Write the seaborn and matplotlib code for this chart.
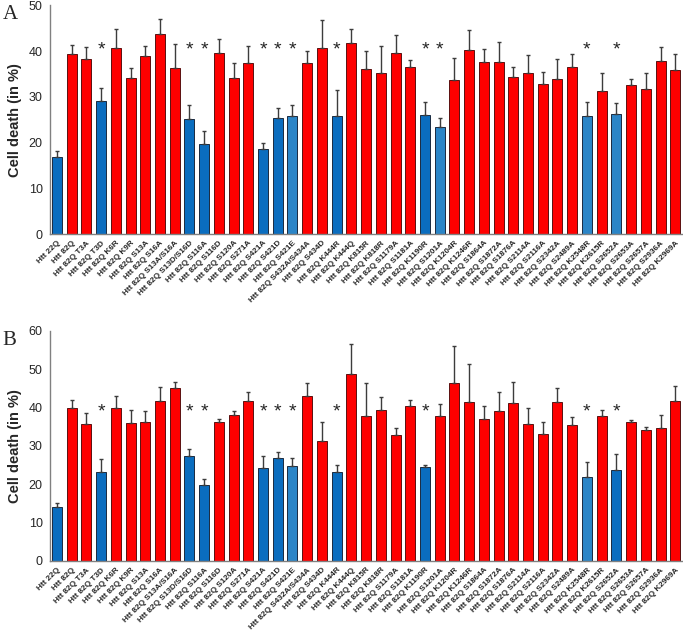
import numpy as np
import pandas as pd
import matplotlib
matplotlib.use("Agg")
import matplotlib.pyplot as plt
import seaborn as sns

sns.set_style("white")
plt.rcParams['font.family'] = ['Liberation Sans', 'DejaVu Sans']

# mutants (same order in both panels)
labels = ["Htt 22Q", "Htt 82Q", "Htt 82Q T3A", "Htt 82Q T3D", "Htt 82Q K6R", "Htt 82Q K9R",
          "Htt 82Q S13A", "Htt 82Q S16A", "Htt 82Q S13A/S16A", "Htt 82Q S13D/S16D",
          "Htt 82Q S116A", "Htt 82Q S116D", "Htt 82Q S120A", "Htt 82Q S271A",
          "Htt 82Q S421A", "Htt 82Q S421D", "Htt 82Q S421E", "Htt 82Q S432A/S434A",
          "Htt 82Q S434D", "Htt 82Q K444R", "Htt 82Q K444Q", "Htt 82Q K815R",
          "Htt 82Q K818R", "Htt 82Q S1179A", "Htt 82Q S1181A", "Htt 82Q K1190R",
          "Htt 82Q S1201A", "Htt 82Q K1204R", "Htt 82Q K1246R", "Htt 82Q S1864A",
          "Htt 82Q S1872A", "Htt 82Q S1876A", "Htt 82Q S2114A", "Htt 82Q S2116A",
          "Htt 82Q S2342A", "Htt 82Q S2489A", "Htt 82Q K2548R", "Htt 82Q K2615R",
          "Htt 82Q S2652A", "Htt 82Q S2653A", "Htt 82Q S2657A", "Htt 82Q S2936A",
          "Htt 82Q K2969A"]

# panel A
death_A = [16.8, 39.4, 38.2, 29.0, 40.7, 34.2, 38.9, 43.7, 36.4, 25.1, 19.6, 39.6, 34.1, 37.4,
           18.5, 25.3, 25.9, 37.4, 40.6, 25.8, 41.8, 36.0, 35.3, 39.6, 36.5, 26.1, 23.3, 33.7,
           40.2, 37.7, 37.7, 34.4, 35.1, 32.8, 33.9, 36.5, 25.8, 31.2, 26.3, 32.5, 31.8, 37.9, 35.9]
err_A = [1.4, 2.0, 2.7, 3.0, 4.2, 2.2, 2.1, 3.4, 5.2, 3.1, 2.9, 3.1, 3.2, 3.8, 1.5, 2.3, 2.4,
         2.6, 6.2, 5.6, 3.0, 3.9, 5.7, 4.0, 1.5, 2.8, 2.0, 4.8, 4.3, 2.8, 4.3, 2.2, 4.1, 2.6,
         4.4, 2.9, 3.1, 4.1, 2.4, 1.4, 3.5, 3.0, 3.5]
group_A = ["b", "r", "r", "b", "r", "r", "r", "r", "r", "b", "b", "r", "r", "r", "b", "b", "lb",
           "r", "r", "b", "r", "r", "r", "r", "r", "b", "lb", "r", "r", "r", "r", "r", "r", "r",
           "r", "r", "lb", "r", "lb", "r", "r", "r", "r"]
star_A = [3, 9, 10, 14, 15, 16, 19, 25, 26, 36, 38]

# panel B
death_B = [14.0, 40.0, 35.8, 23.2, 39.9, 36.1, 36.2, 41.8, 45.2, 27.3, 19.7, 36.3, 38.1, 41.8,
           24.2, 26.8, 24.9, 43.0, 31.3, 23.1, 48.9, 37.9, 39.3, 32.9, 40.3, 24.4, 37.7, 46.3,
           41.6, 37.1, 39.0, 41.3, 35.8, 33.1, 41.4, 35.4, 22.0, 37.7, 23.7, 36.2, 34.2, 34.7, 41.8]
err_B = [1.1, 2.1, 2.8, 3.5, 3.1, 3.4, 2.8, 3.5, 1.6, 2.0, 1.8, 0.7, 1.1, 2.4, 3.2, 1.6, 2.0,
         3.3, 5.0, 1.9, 7.7, 8.4, 3.5, 1.9, 1.7, 0.7, 3.3, 9.7, 9.8, 3.4, 5.2, 5.3, 4.2, 3.2,
         3.6, 2.2, 3.8, 1.8, 4.3, 0.7, 0.8, 3.5, 3.9]
group_B = ["b", "r", "r", "b", "r", "r", "r", "r", "r", "b", "b", "r", "r", "r", "b", "b", "lb",
           "r", "r", "b", "r", "r", "r", "r", "r", "b", "r", "r", "r", "r", "r", "r", "r", "r",
           "r", "r", "lb", "r", "b", "r", "r", "r", "r"]
star_B = [3, 9, 10, 14, 15, 16, 19, 25, 36, 38]

pal = {"r": "#FF0000", "b": "#0A6DBF", "lb": "#2B85C7"}
edges = {"r": "#5a1010", "b": "#1a2a40", "lb": "#1a2a40"}

fig = plt.figure(figsize=(6.83, 6.36), dpi=100)
axA = fig.add_axes([0.0726, 0.632, 0.9268, 0.3597])
axB = fig.add_axes([0.0726, 0.118, 0.9268, 0.3616])


def panel(ax, vals, errs, groups, stars, ymax, star_y, letter):
    df = pd.DataFrame({'Mutant': labels, 'Cell death': vals, 'grp': groups})
    sns.barplot(data=df, x='Mutant', y='Cell death', hue='grp', palette=pal, dodge=False,
                legend=False, width=0.68, ax=ax, saturation=1)
    for bar, g in zip(sorted(ax.patches, key=lambda p: p.get_x()), groups):
        bar.set_edgecolor(edges[g])
        bar.set_linewidth(0.7)
    x = np.arange(len(labels))
    ax.errorbar(x, vals, yerr=[np.zeros(len(errs)), errs], fmt='none', ecolor='#3c3c3c',
                elinewidth=1, capsize=1.5, capthick=1, zorder=1)
    for i in stars:
        ax.text(i, star_y, '*', ha='center', va='center', fontsize=14)
    ax.set_xlim(-0.5, len(labels) - 0.5)
    ax.set_ylim(0, ymax)
    ax.set_yticks(np.arange(0, ymax + 1, 10))
    ax.set_xlabel('')
    ax.set_ylabel('Cell death (in %)', fontsize=10.5, fontweight='bold', labelpad=5)
    ax.set_xticks(x)
    ax.set_xticklabels(labels, rotation=45, ha='right', rotation_mode='anchor',
                       fontsize=5.9, fontweight='bold')
    ax.tick_params(axis='x', length=0, pad=4)
    ax.tick_params(axis='y', length=3, width=0.8, labelsize=9, color='#808080', pad=2)
    for s in ['top', 'right']:
        ax.spines[s].set_visible(False)
    for s in ['left', 'bottom']:
        ax.spines[s].set_color('#808080')
        ax.spines[s].set_linewidth(1)
    ax.text(-0.074, 1.0, letter, transform=ax.transAxes, fontsize=15,
            family='Liberation Serif', va='top', ha='left')


panel(axA, death_A, err_A, group_A, star_A, 50, 40.2, 'A')
panel(axB, death_B, err_B, group_B, star_B, 60, 38.9, 'B')

fig.savefig('out.png', dpi=100)
